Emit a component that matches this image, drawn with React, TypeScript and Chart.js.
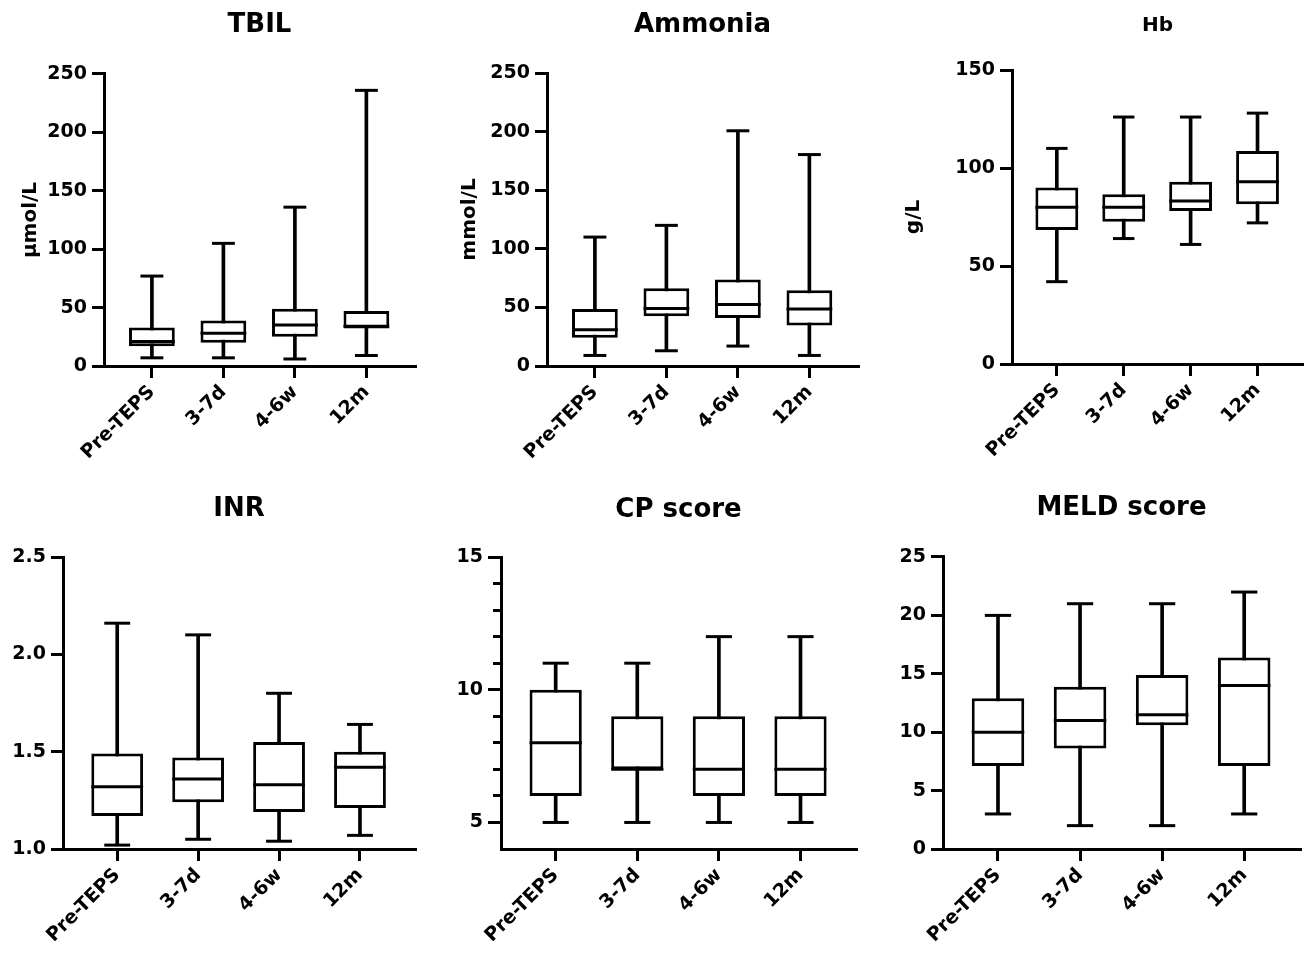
import React, { useEffect, useRef } from 'react';
import { Chart, registerables } from 'chart.js';

Chart.register(...registerables);

const FONT = "'DejaVu Sans', 'Liberation Sans', sans-serif";

// ---------- data ----------
const categories = ['Pre-TEPS', '3-7d', '4-6w', '12m'];

const tbilMin = [7, 7, 6, 9];
const tbilQ1 = [17, 20, 25, 32];
const tbilMedian = [21, 28, 35, 34];
const tbilQ3 = [33, 39, 49, 47];
const tbilMax = [77, 105, 136, 236];

const ammoniaMin = [9, 13, 17, 9];
const ammoniaQ1 = [24, 42.5, 41, 34.5];
const ammoniaMedian = [31, 49, 52.5, 48.7];
const ammoniaQ3 = [48.7, 66.4, 73.8, 64.7];
const ammoniaMax = [110, 120, 200.7, 180.4];

const hbMin = [42, 64, 61, 72];
const hbQ1 = [68.4, 72.6, 78.1, 81.5];
const hbMedian = [80, 80, 83.2, 93];
const hbQ3 = [90, 86.6, 93, 108.7];
const hbMax = [110, 126, 126, 128];

const inrMin = [1.02, 1.05, 1.04, 1.07];
const inrQ1 = [1.17, 1.24, 1.19, 1.21];
const inrMedian = [1.32, 1.36, 1.33, 1.42];
const inrQ3 = [1.49, 1.47, 1.55, 1.5];
const inrMax = [2.16, 2.1, 1.8, 1.64];

const cpMin = [5, 5, 5, 5];
const cpQ1 = [6, 7, 6, 6];
const cpMedian = [8, 7, 7, 7];
const cpQ3 = [10, 9, 9, 9];
const cpMax = [11, 11, 12, 12];

const meldMin = [3, 2, 2, 3];
const meldQ1 = [7.1, 8.6, 10.6, 7.1];
const meldMedian = [10, 11, 11.5, 14];
const meldQ3 = [12.9, 13.9, 14.9, 16.4];
const meldMax = [20, 21, 21, 22];

const tbilTicks = [0, 50, 100, 150, 200, 250];
const ammoniaTicks = [0, 50, 100, 150, 200, 250];
const hbTicks = [0, 50, 100, 150];
const inrTicks = [1.0, 1.5, 2.0, 2.5];
const cpTicks = [5, 10, 15];
const cpMinorTicks = [6, 7, 8, 9, 11, 12, 13, 14];
const meldTicks = [0, 5, 10, 15, 20, 25];

// ---------- panel setup ----------
type Rect = { left: number; top: number; width: number; height: number };
type Area = { left: number; right: number; top: number; bottom: number };

type Panel = {
  title: string;
  titleSize: number;
  titleCenterY: number;
  yTitle?: string;
  yTitleX?: number;
  canvas: Rect;
  area: Area;
  yMin: number;
  yMax: number;
  yTicks: number[];
  yMinor?: number[];
  decimals: number;
  tickLen: number;
  mins: number[];
  q1s: number[];
  medians: number[];
  q3s: number[];
  maxs: number[];
};

const panels: Panel[] = [
  {
    title: 'TBIL', titleSize: 26, titleCenterY: 25, yTitle: 'μmol/L', yTitleX: 31,
    canvas: { left: 0, top: 0, width: 435, height: 470 },
    area: { left: 104, right: 415, top: 74, bottom: 366 },
    yMin: 0, yMax: 250, yTicks: tbilTicks, decimals: 0, tickLen: 12,
    mins: tbilMin, q1s: tbilQ1, medians: tbilMedian, q3s: tbilQ3, maxs: tbilMax,
  },
  {
    title: 'Ammonia', titleSize: 26, titleCenterY: 25, yTitle: 'mmol/L', yTitleX: 470,
    canvas: { left: 440, top: 0, width: 435, height: 470 },
    area: { left: 547, right: 858, top: 73, bottom: 366 },
    yMin: 0, yMax: 250, yTicks: ammoniaTicks, decimals: 0, tickLen: 12,
    mins: ammoniaMin, q1s: ammoniaQ1, medians: ammoniaMedian, q3s: ammoniaQ3, maxs: ammoniaMax,
  },
  {
    title: 'Hb', titleSize: 20, titleCenterY: 26, yTitle: 'g/L', yTitleX: 914,
    canvas: { left: 880, top: 0, width: 424, height: 470 },
    area: { left: 1012, right: 1303, top: 70, bottom: 364 },
    yMin: 0, yMax: 150, yTicks: hbTicks, decimals: 0, tickLen: 12,
    mins: hbMin, q1s: hbQ1, medians: hbMedian, q3s: hbQ3, maxs: hbMax,
  },
  {
    title: 'INR', titleSize: 26, titleCenterY: 509,
    canvas: { left: 0, top: 480, width: 435, height: 473 },
    area: { left: 63, right: 415, top: 557, bottom: 849 },
    yMin: 1.0, yMax: 2.5, yTicks: inrTicks, decimals: 1, tickLen: 12,
    mins: inrMin, q1s: inrQ1, medians: inrMedian, q3s: inrQ3, maxs: inrMax,
  },
  {
    title: 'CP score', titleSize: 26, titleCenterY: 510,
    canvas: { left: 440, top: 480, width: 435, height: 473 },
    area: { left: 501, right: 856, top: 557, bottom: 849 },
    yMin: 4, yMax: 15, yTicks: cpTicks, yMinor: cpMinorTicks, decimals: 0, tickLen: 13,
    mins: cpMin, q1s: cpQ1, medians: cpMedian, q3s: cpQ3, maxs: cpMax,
  },
  {
    title: 'MELD score', titleSize: 26, titleCenterY: 508,
    canvas: { left: 880, top: 480, width: 424, height: 473 },
    area: { left: 943, right: 1300, top: 557, bottom: 849 },
    yMin: 0, yMax: 25, yTicks: meldTicks, decimals: 0, tickLen: 12,
    mins: meldMin, q1s: meldQ1, medians: meldMedian, q3s: meldQ3, maxs: meldMax,
  },
];

const X_MIN = -0.67;
const X_MAX = 3.68;

function spacing(ctx: any): number {
  const xs = ctx.chart.scales.x;
  return Math.abs(xs.getPixelForValue(1) - xs.getPixelForValue(0));
}

function buildConfig(p: Panel): any {
  const tickFont = { family: FONT, size: 19, weight: 'bold' as const };
  const titleLH = p.titleSize * 1.2;
  const titlePadTop = p.titleCenterY - p.canvas.top - titleLH / 2;
  const titlePadBottom = p.area.top - p.canvas.top - titlePadTop - titleLH;
  const yWidth = p.area.left - p.canvas.left;
  const xHeight = p.canvas.top + p.canvas.height - p.area.bottom;
  const padRight = p.canvas.left + p.canvas.width - p.area.right;
  const yTitleLH = 20 * 1.2;
  const yTitlePad = p.yTitleX !== undefined ? p.yTitleX - p.canvas.left - yTitleLH / 2 : 0;

  const pts = (arr: number[]) => arr.map((v, i) => ({ x: i, y: v }));
  const pointSet = (arr: number[], frac: number, order: number) => ({
    type: 'line',
    data: pts(arr),
    showLine: false,
    pointStyle: 'line',
    pointRadius: (ctx: any) => spacing(ctx) * frac,
    pointBorderWidth: 3,
    pointBorderColor: '#000',
    pointBackgroundColor: '#000',
    clip: false,
    order,
    xAxisID: 'x',
    yAxisID: 'y',
  });

  const scales: any = {
    x: {
      type: 'linear',
      min: X_MIN,
      max: X_MAX,
      offset: false,
      afterBuildTicks: (s: any) => {
        s.ticks = categories.map((_, i) => ({ value: i }));
      },
      afterFit: (s: any) => {
        s.height = xHeight;
      },
      ticks: {
        autoSkip: false,
        minRotation: 45,
        maxRotation: 45,
        padding: 3,
        color: '#000',
        font: tickFont,
        callback: (v: any) => categories[Math.round(Number(v))],
      },
      grid: {
        display: true,
        drawOnChartArea: false,
        drawTicks: true,
        offset: false,
        tickLength: 12,
        lineWidth: 3,
        color: '#000',
      },
      border: { display: true, width: 3, color: '#000' },
    },
    y: {
      type: 'linear',
      min: p.yMin,
      max: p.yMax,
      weight: 10,
      afterBuildTicks: (s: any) => {
        s.ticks = p.yTicks.map((v) => ({ value: v }));
      },
      afterFit: (s: any) => {
        s.width = yWidth;
      },
      ticks: {
        padding: 5,
        color: '#000',
        font: tickFont,
        callback: (v: any) => Number(v).toFixed(p.decimals),
      },
      grid: {
        display: true,
        drawOnChartArea: false,
        drawTicks: true,
        tickLength: p.tickLen,
        lineWidth: 3,
        color: '#000',
      },
      border: { display: true, width: 3, color: '#000' },
      title: {
        display: !!p.yTitle,
        text: p.yTitle || '',
        color: '#000',
        font: { family: FONT, size: 20, weight: 'bold' },
        padding: { top: yTitlePad, bottom: 0 },
      },
    },
  };

  if (p.yMinor) {
    const minor = p.yMinor;
    scales.y2 = {
      type: 'linear',
      position: 'left',
      min: p.yMin,
      max: p.yMax,
      weight: 0,
      afterBuildTicks: (s: any) => {
        s.ticks = minor.map((v) => ({ value: v }));
      },
      afterFit: (s: any) => {
        s.width = 0;
      },
      ticks: { display: false },
      grid: {
        display: true,
        drawOnChartArea: false,
        drawTicks: true,
        tickLength: 8,
        lineWidth: 3,
        color: '#000',
      },
      border: { display: false },
    };
    scales.y.afterFit = (s: any) => {
      s.width = yWidth;
    };
  }

  return {
    type: 'bar',
    data: {
      datasets: [
        {
          type: 'bar',
          label: 'Range',
          data: p.mins.map((v, i) => ({ x: i, y: [v, p.maxs[i]] })),
          backgroundColor: '#000',
          borderWidth: 0,
          barThickness: 3,
          grouped: false,
          order: 4,
          xAxisID: 'x',
          yAxisID: 'y',
        },
        {
          type: 'bar',
          label: 'IQR',
          data: p.q1s.map((v, i) => ({ x: i, y: [v, p.q3s[i]] })),
          backgroundColor: '#fff',
          borderColor: '#000',
          borderWidth: 3,
          borderSkipped: false,
          grouped: false,
          categoryPercentage: 1,
          barPercentage: 0.64,
          order: 3,
          xAxisID: 'x',
          yAxisID: 'y',
        },
        { ...pointSet(p.medians, 0.32, 1), label: 'Median' },
        { ...pointSet(p.maxs, 0.16, 2), label: 'Max' },
        { ...pointSet(p.mins, 0.16, 2), label: 'Min' },
      ],
    },
    options: {
      responsive: false,
      maintainAspectRatio: false,
      animation: false,
      devicePixelRatio: 1,
      events: [],
      layout: { padding: { left: 0, top: 0, right: padRight, bottom: 0 } },
      plugins: {
        legend: { display: false },
        tooltip: { enabled: false },
        title: {
          display: true,
          text: p.title,
          fullSize: false,
          color: '#000',
          font: { family: FONT, size: p.titleSize, weight: 'bold', lineHeight: 1.2 },
          padding: { top: titlePadTop, bottom: titlePadBottom },
        },
      },
      scales,
    },
  };
}

function BoxPanel({ panel }: { panel: Panel }) {
  const ref = useRef<HTMLCanvasElement | null>(null);
  useEffect(() => {
    if (!ref.current) return;
    const chart = new Chart(ref.current, buildConfig(panel));
    return () => chart.destroy();
  }, [panel]);
  return (
    <canvas
      ref={ref}
      width={panel.canvas.width}
      height={panel.canvas.height}
      style={{
        position: 'absolute',
        left: panel.canvas.left,
        top: panel.canvas.top,
        width: panel.canvas.width,
        height: panel.canvas.height,
      }}
    />
  );
}

export default function App() {
  return (
    <div
      style={{
        position: 'absolute',
        left: 0,
        top: 0,
        width: 1304,
        height: 953,
        background: '#fff',
        overflow: 'hidden',
      }}
    >
      {panels.map((p) => (
        <BoxPanel key={p.title} panel={p} />
      ))}
    </div>
  );
}
